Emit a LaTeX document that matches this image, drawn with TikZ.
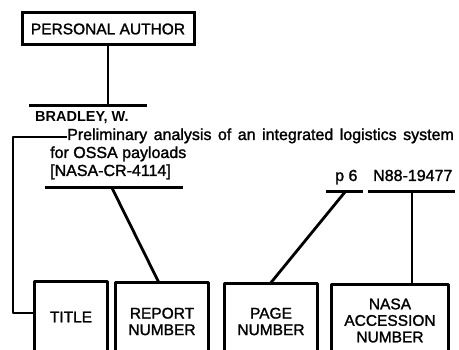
\documentclass[tikz,border=0pt]{standalone}
\usepackage{fontspec}
\setmainfont{Liberation Sans}
\newfontfamily\heavy{Liberation Sans}[FakeBold=1.5]
\begin{document}
\begin{tikzpicture}[x=1pt,y=-1pt,
  lbl/.style={font=\heavy\fontsize{15.5}{16.5}\selectfont, align=center, inner sep=0pt},
  txt/.style={font=\heavy\fontsize{16}{18}\selectfont, inner sep=0pt, anchor=base west},
  boxarea/.style={draw=none, inner sep=0pt, rectangle},
  frame/.style={line width=3pt, line join=round},
  conn/.style={line width=2.8pt},
  uline/.style={line width=3pt}]
\useasboundingbox (0,0) rectangle (459,350);

% Personal author
\node[draw, line width=3pt, rectangle, minimum width=172pt, minimum height=32pt, inner sep=0pt,
      font=\heavy\fontsize{15.5}{16.5}\selectfont] (pa) at (108,29) {PERSONAL AUTHOR};
\coordinate (ua1) at (29,106);
\coordinate (ua2) at (147,106);
\draw[uline] (ua1) -- (ua2);
\draw[conn] (pa.south) -- (pa.south |- ua1);
\node[font=\fontsize{14.5}{16}\selectfont\bfseries, inner sep=0pt, anchor=base west] (author) at (35,122) {BRADLEY, W.};

% Title lines
\node[txt] (t1) at (67,140) {\spaceskip=6.5pt Preliminary analysis of an integrated logistics system};
\node[txt] (t2) at (50,158) {for OSSA payloads};
\node[txt] (t3) at (50,176) {[NASA-CR-4114]};
\node[txt] (pg) at (335,181) {p 6};
\node[txt] (acc) at (373,181) {N88-19477};

% underlines
\coordinate (ur1) at (45,188);
\coordinate (ur2) at (183,188);
\draw[uline] (ur1) -- (ur2);
\coordinate (up1) at (326,192);
\coordinate (up2) at (363,192);
\draw[uline] (up1) -- (up2);
\coordinate (un1) at (368,192);
\coordinate (un2) at (455,192);
\draw[uline] (un1) -- (un2);

% bottom boxes (open at the bottom)
\node[boxarea, minimum width=72pt, minimum height=68pt] (tb) at (71,316) {};
\node[boxarea, minimum width=92pt, minimum height=67pt] (rb) at (162,316.5) {};
\node[boxarea, minimum width=92pt, minimum height=66pt] (pb) at (271,317) {};
\node[boxarea, minimum width=116pt, minimum height=65pt] (nb) at (390,317.5) {};
\foreach \b in {tb,rb,pb,nb}
  \draw[frame] (\b.south west) |- (\b.north east) -- (\b.south east);

\node[lbl] (tt) at (71,317) {TITLE};
\node[lbl] (rt) at (162,321.5) {REPORT\\NUMBER};
\node[lbl] (pt) at (271,321.5) {PAGE\\NUMBER};
\node[lbl] (nt) at (390,320.5) {NASA\\ACCESSION\\NUMBER};

% connectors
\coordinate (lc) at (13,137);
\draw[conn, line join=round] ([yshift=3pt]tb.west) -| (lc) -- (lc -| t1.west);
\coordinate (cR) at (112,188);
\draw[conn] (cR) -- ([xshift=-3pt]rb.north);
\coordinate (cP) at (345,192);
\draw[conn] (cP) -- ([xshift=-1pt]pb.north);
\coordinate (cN) at (412,192);
\draw[conn] (cN) -- (cN |- nb.north);
\end{tikzpicture}
\end{document}
